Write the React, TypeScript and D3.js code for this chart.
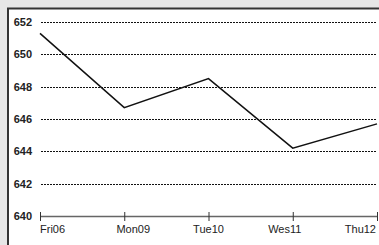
import React from 'react';
import * as d3 from 'd3';

const categories = ['Fri06', 'Mon09', 'Tue10', 'Wes11', 'Thu12'];
const values = [651.3, 646.7, 648.5, 644.2, 645.7];
const yTicks = [640, 642, 644, 646, 648, 650, 652];

const W = 379;
const H = 245;

// label nudges, the source draws them a bit off the tick
const labelShift: Record<string, number> = { Fri06: 0, Mon09: 9, Tue10: 0, Wes11: -8, Thu12: -1 };

const App = () => {
  const x = d3.scalePoint<string>().domain(categories).range([40, 377]);
  const y = d3.scaleLinear().domain([640, 652]).range([216, 22]);

  const line = d3.line<number>()
    .x((d, i) => x(categories[i]) as number)
    .y(d => y(d));

  return (
    <svg
      width={W}
      height={H}
      style={{ position: 'fixed', left: 0, top: 0 }}
      fontFamily="'Liberation Sans', Arial, sans-serif"
    >
      <rect x={0} y={0} width={W} height={H} fill="#e6e6e6" />
      <rect x={8} y={8.5} width={W + 20} height={H + 20} fill="#fff" stroke="#333" strokeWidth={2} />

      {/* grid + y labels */}
      {yTicks.map(t => (
        <g key={t}>
          {t !== 640 && (
            <line
              x1={41} x2={377}
              y1={Math.round(y(t)) + 0.5} y2={Math.round(y(t)) + 0.5}
              stroke="#111" strokeWidth={1.2} strokeDasharray="2,1"
            />
          )}
          <text
            x={32} y={y(t)} dy="0.35em" textAnchor="end"
            fontSize={11} fontWeight="bold" fill="#222"
          >{t}</text>
        </g>
      ))}

      {/* x axis */}
      <line x1={40} x2={377} y1={216.5} y2={216.5} stroke="#666" strokeWidth={1.5} />
      {categories.map(c => (
        <g key={c}>
          <line x1={(x(c) as number) + 0.5} x2={(x(c) as number) + 0.5} y1={212} y2={221} stroke="#333" strokeWidth={1} />
          <text
            x={(x(c) as number) + labelShift[c]} y={233}
            textAnchor={c === 'Fri06' ? 'start' : c === 'Thu12' ? 'end' : 'middle'}
            fontSize={11} fill="#222"
          >{c}</text>
        </g>
      ))}

      <path d={line(values) || ''} fill="none" stroke="#111" strokeWidth={1.5} />
    </svg>
  );
};

export default App;
